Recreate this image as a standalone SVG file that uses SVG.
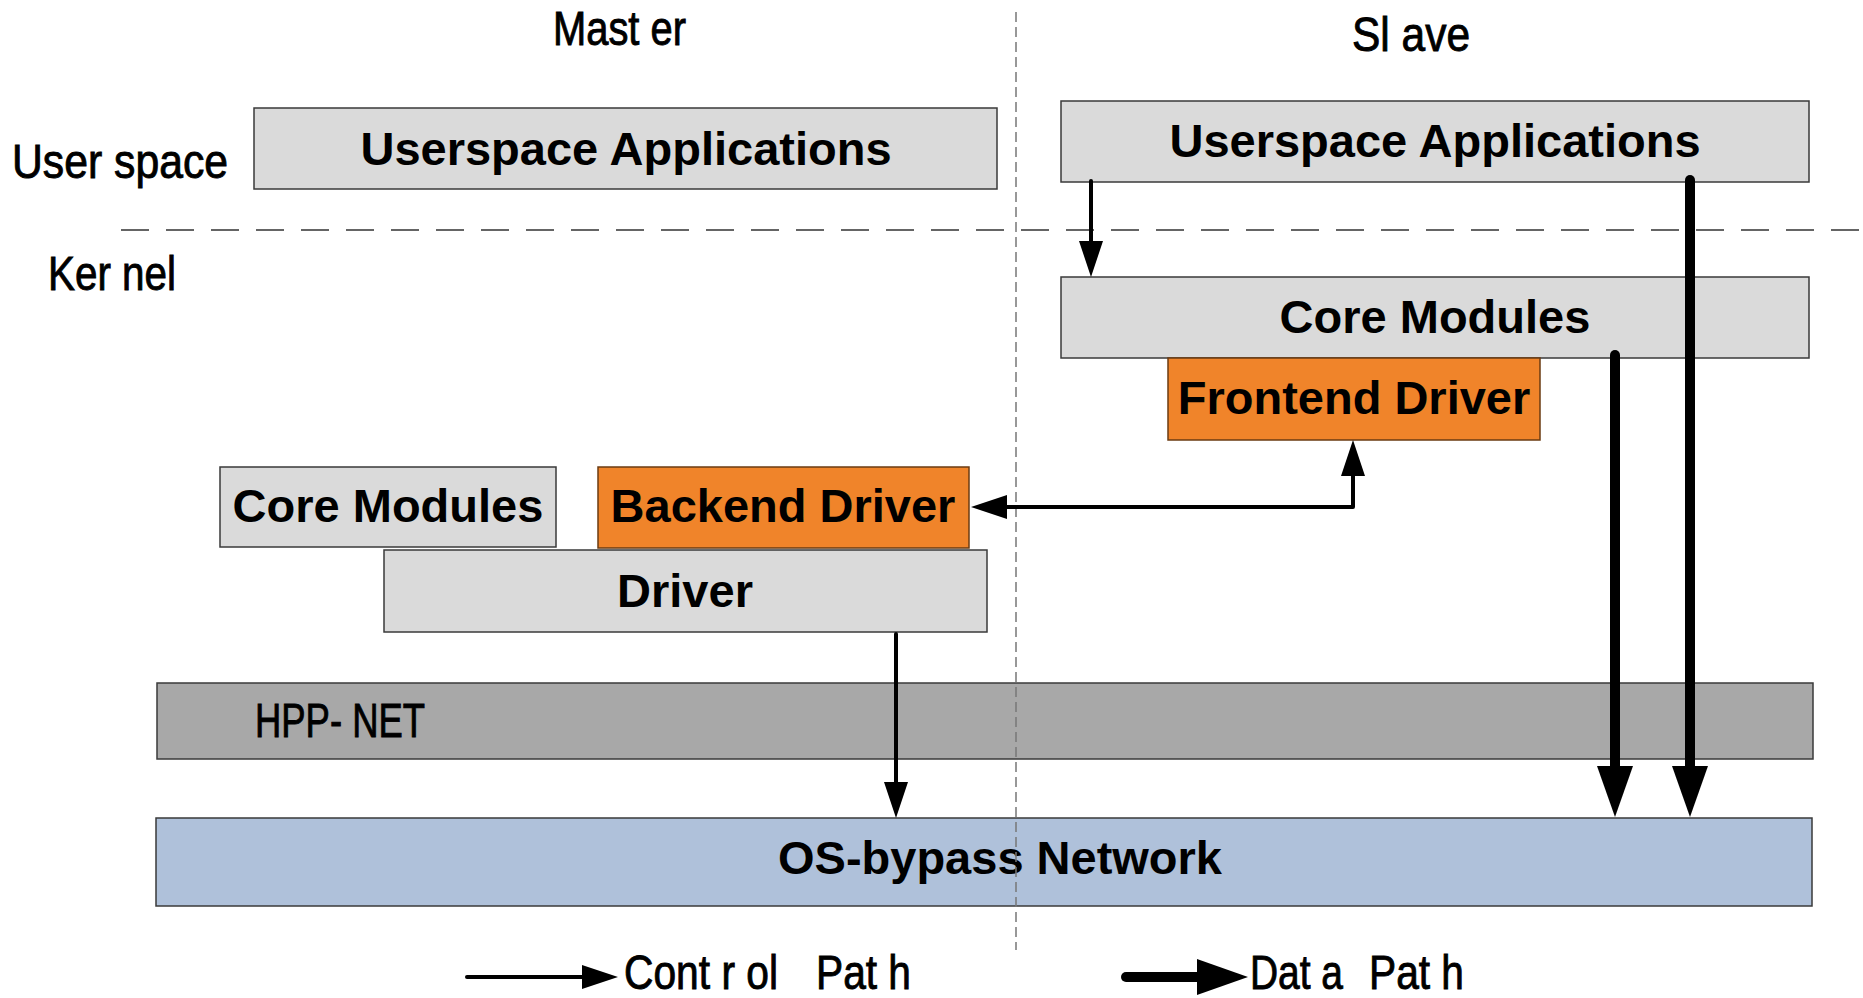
<svg xmlns="http://www.w3.org/2000/svg" width="1863" height="998" viewBox="0 0 1863 998">
  <style>
    .box { fill: #dadada; stroke: #3a3a3a; stroke-width: 1.5; }
    .drv { fill: #f0842a; stroke: #6b3b12; stroke-width: 1.5; }
    .hpp { fill: #a8a8a8; stroke: #3a3a3a; stroke-width: 1.5; }
    .net { fill: #afc1da; stroke: #3a3a3a; stroke-width: 1.5; }
    .lbl { font-family: "Liberation Sans", Arial, sans-serif; font-weight: bold; font-size: 47px; fill: #000; text-anchor: middle; }
    .tag { font-family: "Liberation Sans", Arial, sans-serif; font-size: 48px; fill: #000; stroke: #000; stroke-width: 0.9; }
    .ctl { fill: none; stroke: #000; stroke-width: 4; stroke-linecap: round; stroke-linejoin: round; }
    .dat { fill: none; stroke: #000; stroke-width: 10; stroke-linecap: round; stroke-linejoin: round; }
    .sep { fill: none; stroke: #333; stroke-width: 1.6; stroke-dasharray: 28 17; }
    .side { fill: none; stroke: #777; stroke-width: 1.5; stroke-dasharray: 10 5; }
  </style>
  <defs>
    <marker id="head-ctl" markerUnits="userSpaceOnUse" markerWidth="36" markerHeight="24" refX="0" refY="12" orient="auto-start-reverse" viewBox="0 0 36 24">
      <path d="M0,0 L36,12 L0,24 Z" fill="#000"/>
    </marker>
    <marker id="head-dat" markerUnits="userSpaceOnUse" markerWidth="51" markerHeight="36" refX="0" refY="18" orient="auto" viewBox="0 0 51 36">
      <path d="M0,0 L51,18 L0,36 Z" fill="#000"/>
    </marker>
  </defs>

  <rect width="1863" height="998" fill="#fff"/>

  <!-- column and layer headings -->
  <g id="headings">
    <text class="tag" x="553" y="45" textLength="133" lengthAdjust="spacingAndGlyphs">Mast er</text>
    <text class="tag" x="1352" y="51" textLength="118" lengthAdjust="spacingAndGlyphs">Sl ave</text>
    <text class="tag" x="12" y="178" textLength="216" lengthAdjust="spacingAndGlyphs">User space</text>
    <text class="tag" x="48" y="290" textLength="128" lengthAdjust="spacingAndGlyphs">Ker nel</text>
  </g>

  <!-- user/kernel boundary -->
  <line class="sep" x1="121" y1="230" x2="1863" y2="230"/>

  <g id="master-userspace">
    <rect class="box" x="254" y="108" width="743" height="81"/>
    <text class="lbl" x="626" y="165">Userspace Applications</text>
  </g>
  <g id="slave-userspace">
    <rect class="box" x="1061" y="101" width="748" height="81"/>
    <text class="lbl" x="1435" y="157">Userspace Applications</text>
  </g>
  <g id="slave-core">
    <rect class="box" x="1061" y="277" width="748" height="81"/>
    <text class="lbl" x="1435" y="333">Core Modules</text>
  </g>
  <g id="frontend-driver">
    <rect class="drv" x="1168" y="358" width="372" height="82"/>
    <text class="lbl" x="1354" y="414">Frontend Driver</text>
  </g>
  <g id="master-core">
    <rect class="box" x="220" y="467" width="336" height="80"/>
    <text class="lbl" x="388" y="522">Core Modules</text>
  </g>
  <g id="backend-driver">
    <rect class="drv" x="598" y="467" width="371" height="81"/>
    <text class="lbl" x="783" y="522">Backend Driver</text>
  </g>
  <g id="driver">
    <rect class="box" x="384" y="550" width="603" height="82"/>
    <text class="lbl" x="685" y="607">Driver</text>
  </g>
  <g id="hpp-net">
    <rect class="hpp" x="157" y="683" width="1656" height="76"/>
    <text class="tag" x="255" y="737" textLength="170" lengthAdjust="spacingAndGlyphs">HPP- NET</text>
  </g>
  <g id="os-bypass">
    <rect class="net" x="156" y="818" width="1656" height="88"/>
    <text class="lbl" x="1000" y="874">OS-bypass Network</text>
  </g>

  <!-- master/slave divider -->
  <line class="side" x1="1016" y1="12" x2="1016" y2="950"/>

  <g id="connectors">
    <path class="ctl" d="M1091,181 V241" marker-end="url(#head-ctl)"/>
    <path class="ctl" d="M1007,507 H1353 V476" marker-start="url(#head-ctl)" marker-end="url(#head-ctl)"/>
    <path class="ctl" d="M896,634 V782" marker-end="url(#head-ctl)"/>
    <path class="dat" d="M1615,355 V766" marker-end="url(#head-dat)"/>
    <path class="dat" d="M1690,180 V766" marker-end="url(#head-dat)"/>
  </g>

  <g id="legend">
    <path class="ctl" d="M467,977 H582" marker-end="url(#head-ctl)"/>
    <text class="tag" y="989"><tspan x="624" textLength="154" lengthAdjust="spacingAndGlyphs">Cont r ol</tspan> <tspan x="816" textLength="95" lengthAdjust="spacingAndGlyphs">Pat h</tspan></text>
    <path class="dat" d="M1126,977 H1197" marker-end="url(#head-dat)"/>
    <text class="tag" y="989"><tspan x="1250" textLength="93" lengthAdjust="spacingAndGlyphs">Dat a</tspan> <tspan x="1369" textLength="95" lengthAdjust="spacingAndGlyphs">Pat h</tspan></text>
  </g>
</svg>
